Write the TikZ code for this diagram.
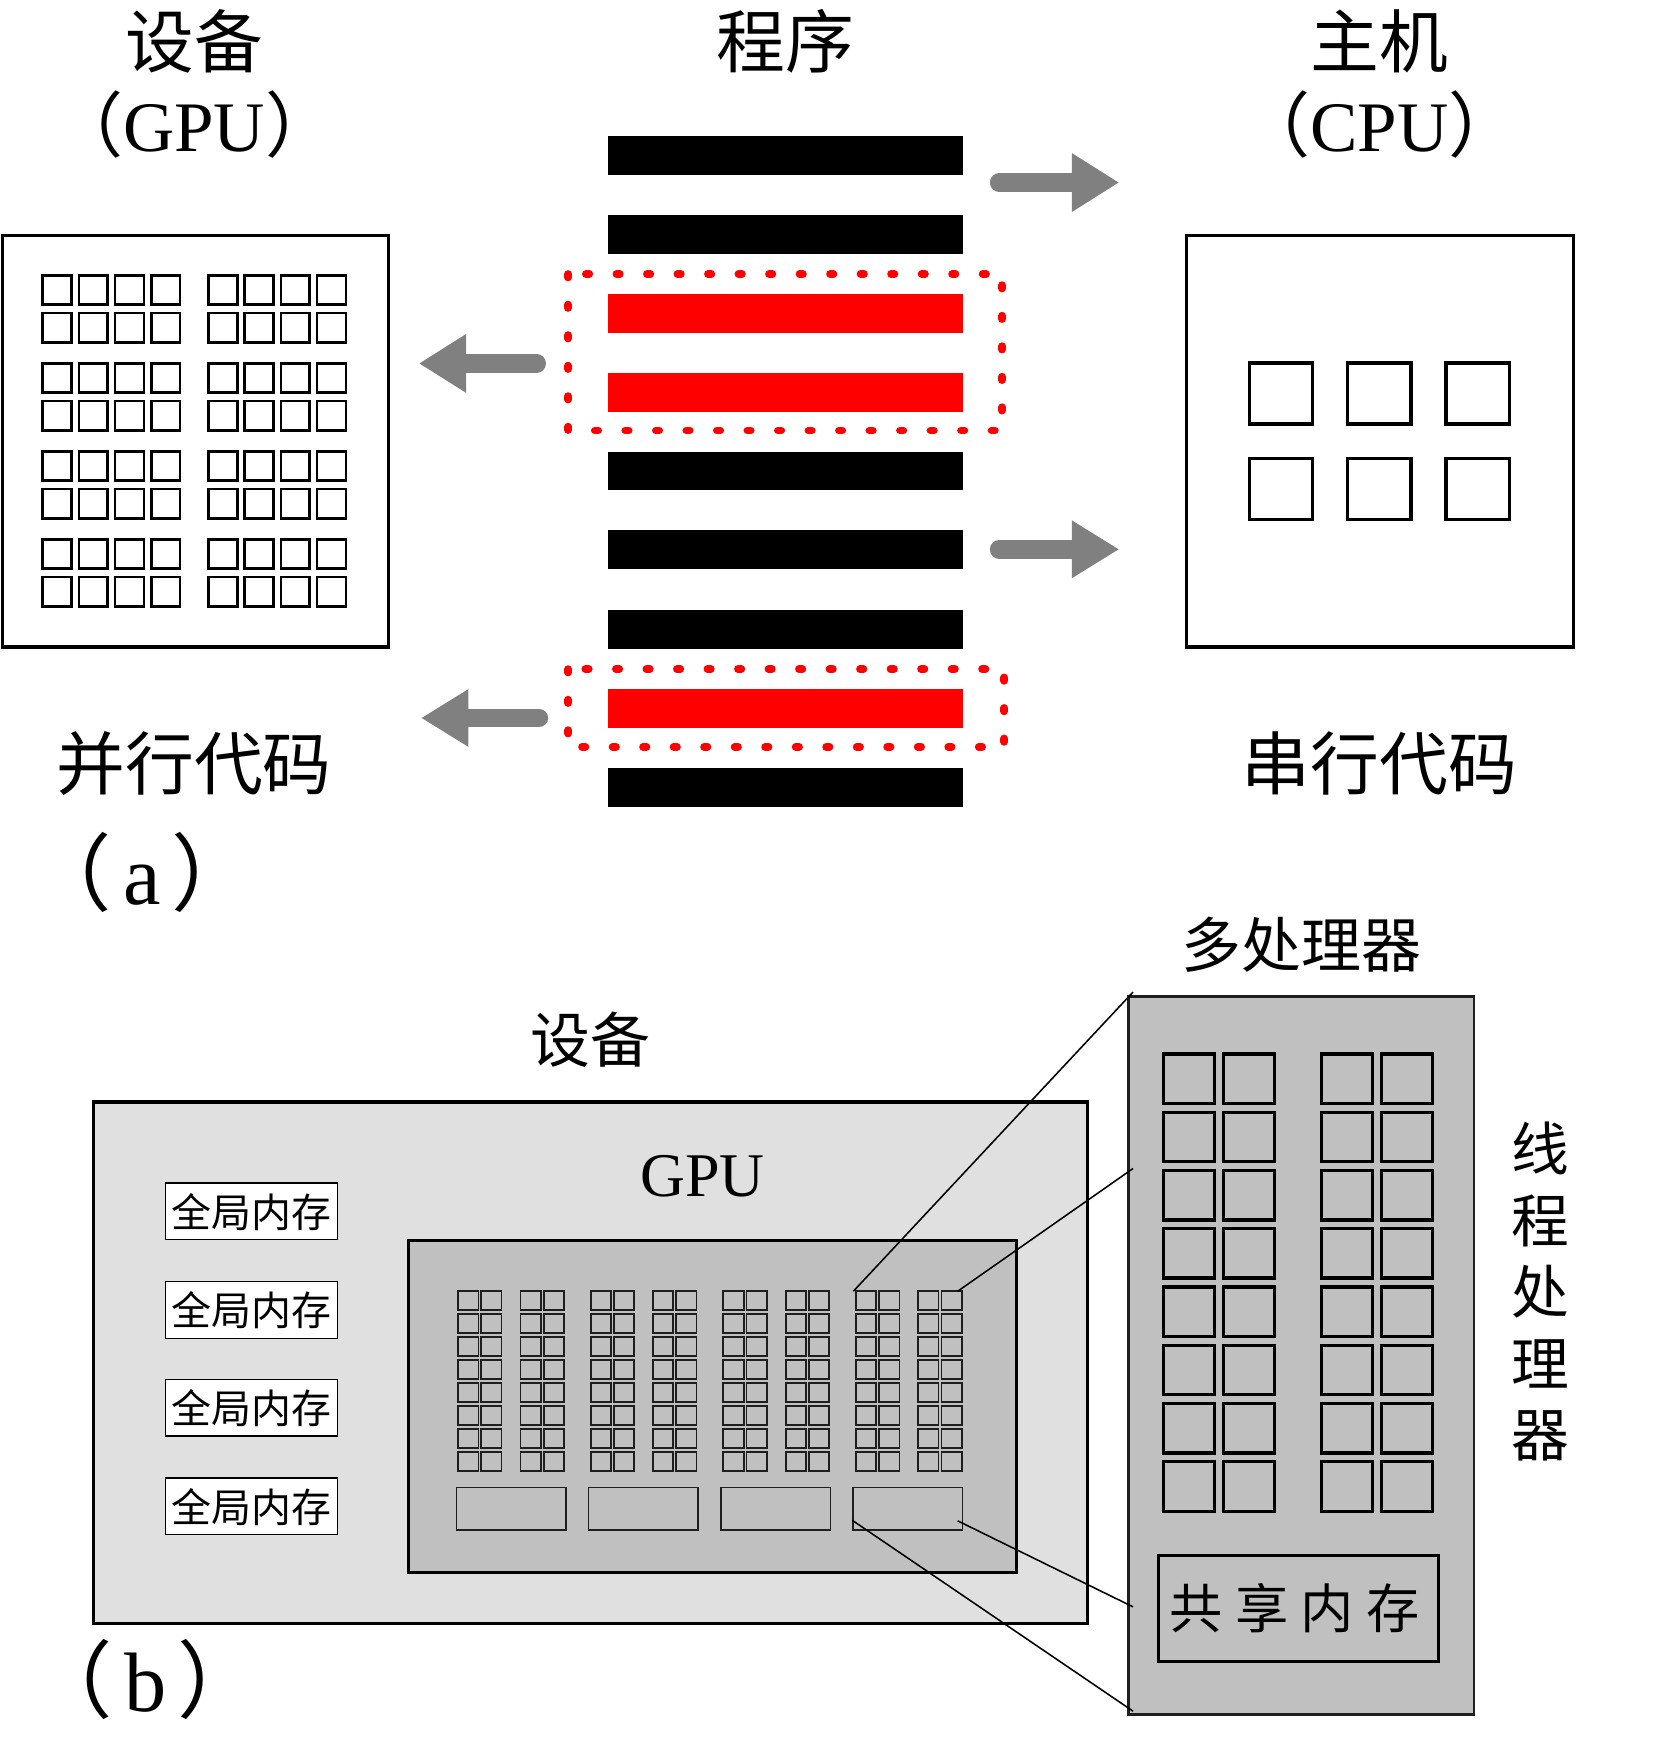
\documentclass[tikz,border=0pt]{standalone}
\usepackage{fontspec}
\setmainfont{Liberation Serif}
\newfontfamily\cjk{Noto Sans CJK SC}
\definecolor{arrowgray}{RGB}{128,128,128}
\definecolor{devfill}{RGB}{224,224,224}
\definecolor{gpufill}{RGB}{192,192,192}
\definecolor{sqline}{RGB}{30,30,30}
\tikzset{
  txt/.style={inner sep=0pt, outer sep=0pt, text=black},
  cjkA/.style={txt, font=\cjk\fontsize{31}{31}\selectfont},
  latA/.style={txt, font=\fontsize{32}{32}\selectfont},
  latL/.style={txt, font=\fontsize{38}{38}\selectfont},
  cjkB/.style={txt, font=\cjk\fontsize{27}{27}\selectfont},
  latB/.style={txt, font=\fontsize{28}{28}\selectfont},
  memtxt/.style={txt, font=\cjk\fontsize{18}{18}\selectfont},
  bigbox/.style={draw=black, line width=1.5pt},
  smallsq/.style={draw=black, line width=1.2pt},
  bar/.style={fill=black, draw=none},
  redbar/.style={fill=red, draw=none},
  reddots/.style={draw=red, line width=3.5pt, line cap=round, dash pattern=on 1.5pt off 12.25pt},
  shaft/.style={draw=arrowgray, line width=8.5pt, line cap=round},
  ahead/.style={fill=arrowgray, draw=none},
  devbox/.style={fill=devfill, draw=black, line width=1.5pt},
  gpubox/.style={fill=gpufill, draw=black, line width=1.2pt},
  memb/.style={fill=white, draw=black, line width=0.6pt},
  tinysq/.style={draw=sqline, line width=0.8pt},
  smrect/.style={draw=sqline, line width=0.7pt},
  mpbox/.style={fill=gpufill, draw=sqline, line width=1pt},
  mpsq/.style={draw=black, line width=1.5pt},
  link/.style={draw=black, line width=0.7pt},
}
\begin{document}
\begin{tikzpicture}[x=0.5pt,y=-0.5pt]
\useasboundingbox (0,0) rectangle (1502,1568);

%================ (a) ================
\node[cjkA] (devA) at (175,37) {设备};
\node[latA] (gpuA) at (175,112) {{\cjk （}GPU{\cjk ）}};
\node[cjkA] (prog) at (708,37) {程序};
\node[cjkA] (host) at (1243,37) {主机};
\node[latA] (cpuA) at (1243,112) {{\cjk （}CPU{\cjk ）}};
\node[cjkA] (par) at (175,688) {并行代码};
\node[cjkA] (ser) at (1243,688) {串行代码};
\node[latL] (la) at (128,786) {{\cjk （}\hspace{5pt}a\hspace{5pt}{\cjk ）}};

% GPU box with cores
\draw[bigbox] (2,212) rectangle (350,583);
\foreach \bx in {38.5,188}{
  \foreach \g in {0,1,2,3}{
    \foreach \r in {0,1}{
      \foreach \c in {0,1,2,3}{
        \draw[smallsq] ({\bx+\c*32.6},{248+\g*79.3+\r*34}) rectangle ++(26,26.5);
      }
    }
  }
}

% CPU box with cores
\draw[bigbox] (1069,212) rectangle (1418,583);
\foreach \c in {0,1,2}{
  \foreach \r in {0,1}{
    \draw[bigbox] ({1126+\c*88.5},{327+\r*86}) rectangle ++(57,55);
  }
}

% program bars
\foreach \y in {123,194,407,478,550,692}{
  \fill[bar] (548,\y) rectangle (868,\y+35);
}
\foreach \y in {265,336,621}{
  \fill[redbar] (548,\y) rectangle (868,\y+35);
}
\draw[reddots] (512,247) rectangle (903,388);
\draw[reddots] (512,603) rectangle (905,673);

% arrows
\coordinate (l1s) at (483.5,327.5);
\coordinate (l1b) at (421,327.5);
\draw[shaft] (l1s) -- (l1b);
\fill[ahead] (420,301) -- (378,327.5) -- (420,354) -- cycle;
\coordinate (l2s) at (485.5,647);
\coordinate (l2b) at (423,647);
\draw[shaft] (l2s) -- (l2b);
\fill[ahead] (422,621) -- (380,647) -- (422,673) -- cycle;
\coordinate (r1s) at (900.5,164.5);
\coordinate (r1b) at (965,164.5);
\draw[shaft] (r1s) -- (r1b);
\fill[ahead] (966,138) -- (1008,164.5) -- (966,191) -- cycle;
\coordinate (r2s) at (900.5,495);
\coordinate (r2b) at (965,495);
\draw[shaft] (r2s) -- (r2b);
\fill[ahead] (966,469) -- (1008,495) -- (966,521) -- cycle;

%================ (b) ================
\node[cjkB] (devB) at (532,937) {设备};
\node[latL] (lb) at (131,1513) {{\cjk （}\hspace{5pt}b\hspace{5pt}{\cjk ）}};

\draw[devbox] (84,993) rectangle (980,1463);
\node[latB] (gpuB) at (633,1060) {GPU};

\foreach \i/\y in {0/1066,1/1155,2/1243,3/1332}{
  \draw[memb] (149,\y) rectangle (304,\y+51);
  \node[memtxt] (mem\i) at (226.5,\y+26) {全局内存};
}

\draw[gpubox] (368,1118) rectangle (916,1417);
\foreach \g in {0,1,2,3}{
  \foreach \p in {0,1}{
    \foreach \c in {0,1}{
      \foreach \r in {0,...,7}{
        \draw[tinysq] ({412.8+\g*119.5+\p*56.2+\c*20.9},{1163.6+\r*20.7}) rectangle ++(18.3,17.1);
      }
    }
  }
  \draw[smrect] ({411.3+\g*119.2},1340.5) rectangle ++(98.6,38.1);
}

% multiprocessor
\node[cjkB] (mpl) at (1173,851) {多处理器};
\draw[mpbox] (1017,898) rectangle (1328,1545);
\foreach \x in {1048.6,1102.4,1191,1245}{
  \foreach \r in {0,...,7}{
    \draw[mpsq] (\x,{949.8+\r*52.5}) rectangle ++(46,44.5);
  }
}
\draw[bigbox] (1044,1401.5) rectangle (1296,1497.5);
\node[txt, font=\cjk\fontsize{24}{24}\selectfont] (shm) at (1166.5,1449.5) {共\hspace{5.5pt}享\hspace{5.5pt}内\hspace{5.5pt}存};
\node[txt, font=\cjk\fontsize{26}{32.25}\selectfont, align=center] (tp) at (1388,1164) {线\\程\\处\\理\\器};

% zoom connectors
\coordinate (c1a) at (769,1163.6);
\coordinate (c1b) at (1021,894);
\coordinate (c2a) at (863,1163.6);
\coordinate (c2b) at (1021,1053);
\coordinate (c3a) at (863,1370.5);
\coordinate (c3b) at (1021,1448);
\coordinate (c4a) at (768,1370);
\coordinate (c4b) at (1021,1542);
\draw[link] (c1a) -- (c1b);
\draw[link] (c2a) -- (c2b);
\draw[link] (c3a) -- (c3b);
\draw[link] (c4a) -- (c4b);
\end{tikzpicture}
\end{document}
